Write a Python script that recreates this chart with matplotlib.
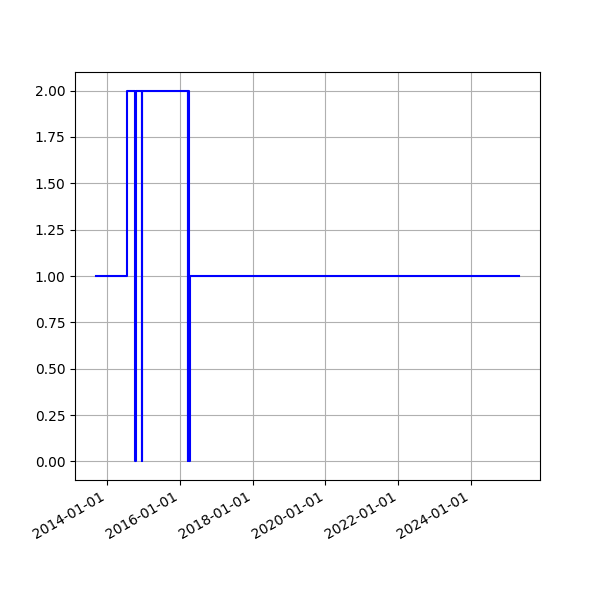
import numpy as np
import matplotlib
matplotlib.use("Agg")
import matplotlib.pyplot as plt
import matplotlib.dates as mdates

# change points of the series (value holds until next date)
dates = np.array([
    "2013-09-12", "2014-07-14",
    "2014-10-12", "2014-10-22",
    "2014-12-12", "2014-12-20",
    "2016-03-18", "2016-03-26",
    "2016-04-02", "2016-04-12",
    "2025-04-25",
], dtype="datetime64[D]")
values = [1, 2, 0, 2, 0, 2, 0, 2, 0, 1, 1]

fig, ax = plt.subplots(figsize=(6, 6), dpi=100)
ax.plot(dates, values, color="blue", drawstyle="steps-post", linewidth=1.5)
ax.xaxis.set_major_formatter(mdates.DateFormatter("%Y-%m-%d"))
ax.grid(True)
fig.autofmt_xdate()
plt.savefig("out.png", dpi=100)
